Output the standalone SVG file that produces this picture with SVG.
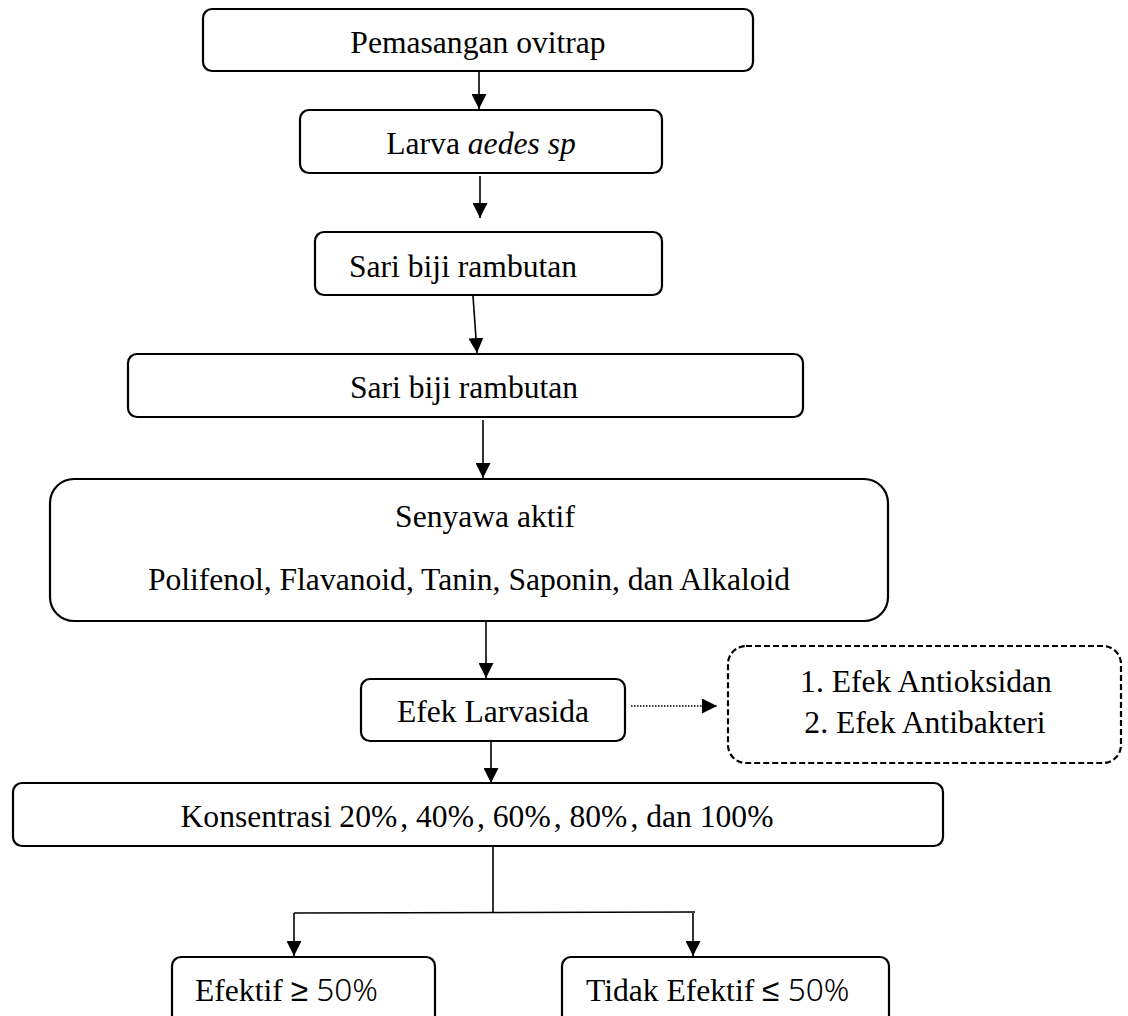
<svg xmlns="http://www.w3.org/2000/svg" width="1128" height="1016" viewBox="0 0 1128 1016">
<defs>
<marker id="ah" viewBox="0 0 16 16" refX="16" refY="8" markerWidth="15" markerHeight="15" markerUnits="userSpaceOnUse" orient="auto"><path d="M0,0 L16,8 L0,16 z" fill="#000"/></marker>
<style>
.box{fill:#fff;stroke:#000;stroke-width:2.2}
.dash{fill:#fff;stroke:#000;stroke-width:2.2;stroke-dasharray:6 3}
.t{font-family:"Liberation Serif","Times New Roman",serif;font-size:31.6px;fill:#000}
.c{text-anchor:middle}
.m{font-family:"Noto Sans","DejaVu Sans",sans-serif;font-weight:300}
.ln{stroke:#000;stroke-width:1.6;fill:none}
.arr{stroke:#000;stroke-width:1.6;fill:none;marker-end:url(#ah)}
.dot{stroke:#000;stroke-width:1.6;fill:none;stroke-dasharray:1.5 1.5;marker-end:url(#ah)}
</style>
</defs>
<rect width="1128" height="1016" fill="#fff"/>
<g id="connectors">
<line class="arr" x1="479" y1="71" x2="479" y2="109"/>
<line class="arr" x1="480" y1="176" x2="480" y2="218"/>
<line class="arr" x1="473" y1="296" x2="477" y2="353"/>
<line class="arr" x1="483" y1="420" x2="483" y2="478"/>
<line class="arr" x1="486" y1="621" x2="486" y2="678"/>
<line class="dot" x1="631" y1="706" x2="717" y2="706"/>
<line class="arr" x1="491" y1="741" x2="491" y2="783"/>
<line class="ln" x1="493" y1="846" x2="493" y2="913"/>
<line class="ln" x1="294" y1="913" x2="695" y2="912"/>
<line class="arr" x1="294" y1="913" x2="294" y2="956"/>
<line class="arr" x1="693" y1="913" x2="693" y2="956"/>
</g>
<g id="n1"><rect class="box" x="203" y="9" width="550" height="62" rx="9"/><text class="t c" x="478" y="53">Pemasangan ovitrap</text></g>
<g id="n2"><rect class="box" x="300" y="110" width="362" height="63" rx="9"/><text class="t c" x="481" y="154">Larva <tspan font-style="italic">aedes sp</tspan></text></g>
<g id="n3"><rect class="box" x="315" y="232" width="347" height="63" rx="9"/><text class="t" x="349" y="277">Sari biji rambutan</text></g>
<g id="n4"><rect class="box" x="128" y="354" width="675" height="63" rx="9"/><text class="t" x="350" y="398">Sari biji rambutan</text></g>
<g id="n5"><rect class="box" x="50" y="479" width="838" height="142" rx="24"/><text class="t c" x="485" y="527">Senyawa aktif</text><text class="t c" x="469" y="590">Polifenol, Flavanoid, Tanin, Saponin, dan Alkaloid</text></g>
<g id="n6"><rect class="box" x="361" y="679" width="264" height="62" rx="9"/><text class="t c" x="493" y="722">Efek Larvasida</text></g>
<g id="n7"><rect class="dash" x="728" y="646" width="393" height="117" rx="18"/><text class="t c" x="926" y="692">1. Efek Antioksidan</text><text class="t c" x="925" y="733">2. Efek Antibakteri</text></g>
<g id="n8"><rect class="box" x="13" y="783" width="930" height="63" rx="9"/><text class="t c" x="477" y="827">Konsentrasi 20%<tspan dx="3">,</tspan> 40%<tspan dx="3">,</tspan> 60%<tspan dx="3">,</tspan> 80%<tspan dx="3">,</tspan> dan 100%</text></g>
<g id="n9"><rect class="box" x="172" y="957" width="263" height="72" rx="9"/><text class="t" x="195" y="1001">Efektif <tspan class="m">≥ 50%</tspan></text></g>
<g id="n10"><rect class="box" x="562" y="957" width="327" height="72" rx="9"/><text class="t" x="586" y="1001">Tidak Efektif <tspan class="m">≤ 50%</tspan></text></g>
</svg>
